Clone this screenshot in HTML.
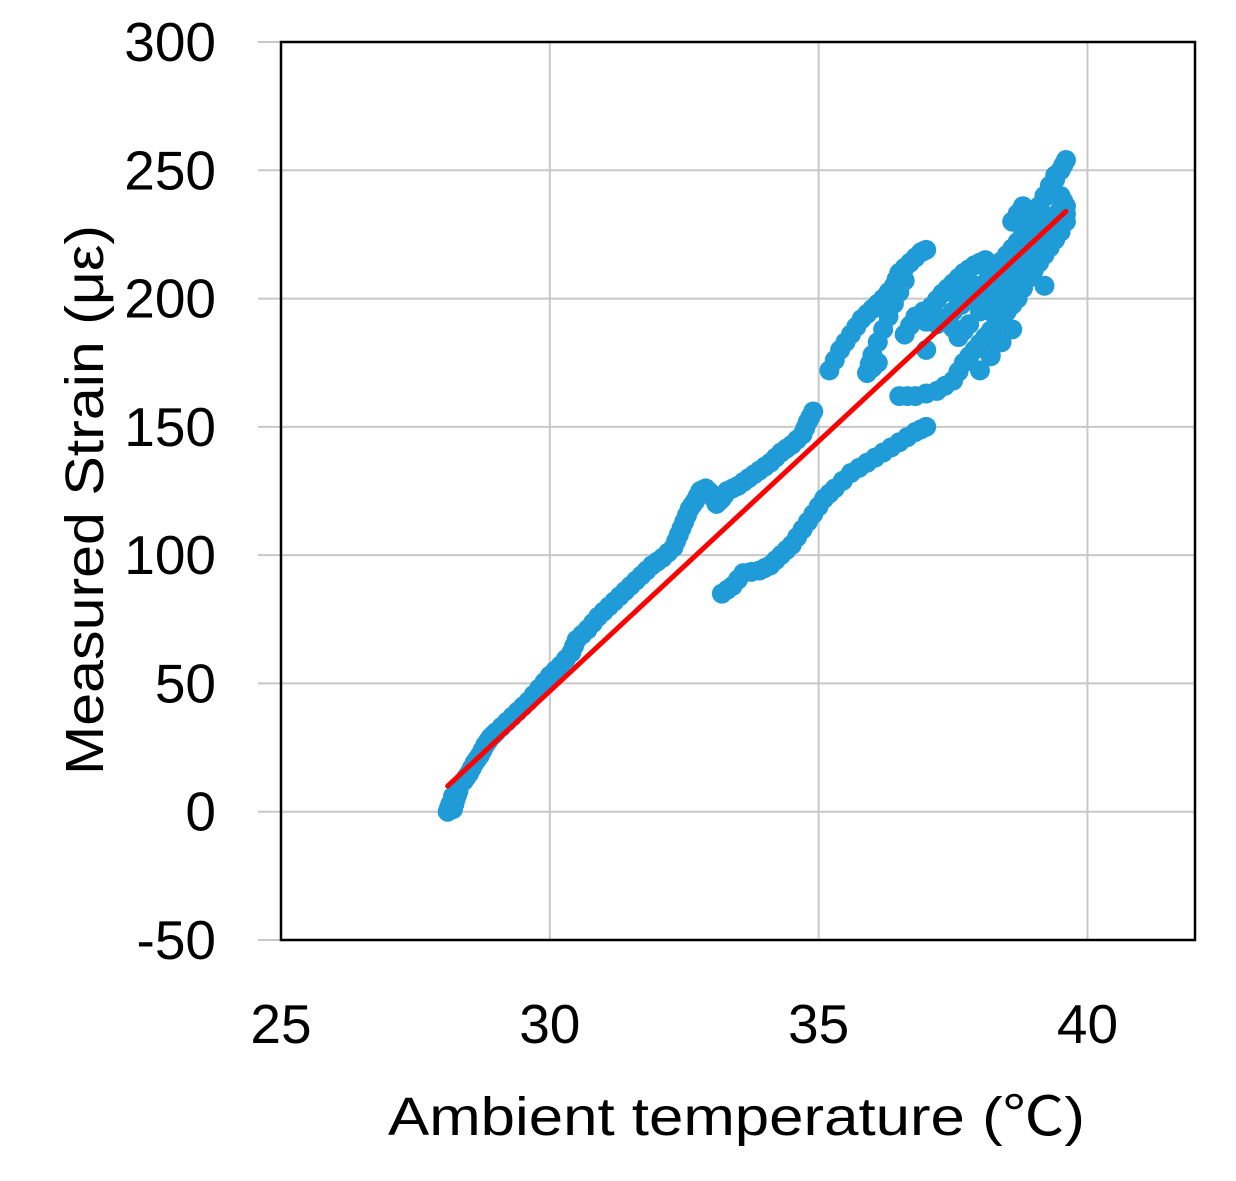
<!DOCTYPE html>
<html><head><meta charset="utf-8"><style>
html,body{margin:0;padding:0;background:#fff;}
svg text{font-family:"Liberation Sans","Noto Sans CJK JP",sans-serif;fill:#000;}
</style></head><body>
<svg id="chart" width="1236" height="1176" viewBox="0 0 1236 1176" xmlns="http://www.w3.org/2000/svg">
<g id="grid"></g><g id="pts"></g><g id="fit"></g><g id="axes"></g>
<text x="388" y="1135" font-size="54" textLength="697" lengthAdjust="spacingAndGlyphs">Ambient temperature (℃)</text>
<text x="0" y="0" font-size="54" textLength="550" lengthAdjust="spacingAndGlyphs" transform="translate(103,775) rotate(-90)">Measured Strain (με)</text>
</svg>
<script>
const xTicks=[25,30,35,40];
const yTicks=[-50,0,50,100,150,200,250,300];
const tempUpper=[28.1,28.15,28.2,28.25,28.3,28.2,28.4,28.5,28.6,28.7,28.8,28.9,29,29.2,29.4,29.6,29.8,30,30.2,30.4,30.5,30.7,30.9,31.1,31.3,31.5,31.7,31.9,32.1,32.3,32.4,32.5,32.6,32.7,32.8,32.9,33,33.1,33.2,33.3,33.5,33.7,33.9,34.1,34.3,34.5,34.7,34.8,34.9];
const strainUpper=[0,3,1,5,8,6,12,15,19,22,26,29,31,35,39,43,48,53,57,62,67,71,76,80,84,88,92,96,99,103,108,113,118,121,125,126,124,120,122,125,127,130,133,136,140,143,147,152,156];
const tempMid=[35.2,35.4,35.6,35.8,36,36.2,36.4,36.5,36.7,36.9,37,36.6,36.4,36.2,36.0,35.9,36.1,36.6,36.8,37.1,37.3,37.5,37.7,37.9,38.1,38.3,38.5,38.7,38.9,39.1,39.3,39.5,39.6,39.5,39.6,39.6,38.6,38.8,39.0,39.2,39.4,39.4,39.2,38.6,38.2,37.0,36.8,37.2,37.5,37.8,38.0,38.3,38.5,38.8,39.0,39.3,38.4,38.7,38.9,39.1,39.5,37.6,37.9,38.2];
const strainMid=[172,180,186,192,196,200,205,210,214,218,219,207,198,188,178,171,175,186,193,197,202,206,210,213,215,212,217,222,228,236,243,250,254,240,236,230,230,236,230,240,248,225,220,212,205,180,192,190,195,200,205,210,215,220,225,232,200,208,215,222,235,200,205,195];
const tempLower=[33.2,33.4,33.6,33.9,34.1,34.3,34.5,34.7,34.9,35.1,35.3,35.6,35.9,36.2,36.5,36.8,37,36.5,36.8,37.2,37.5,37.7,37.9,38.1,38.3,38.5,38.7,38.9,39.1,39.3,39.5,38,38.4,38.8,39,39.4,37.8,37.6,37.4,38.2,38.6,39.2,38.0,38.4];
const strainLower=[85,88,93,94,96,100,104,110,116,122,126,132,136,140,144,148,150,162,162,164,168,175,180,185,190,195,200,208,214,220,226,195,200,210,220,232,190,185,192,178,188,205,172,183];
const fitStart=[28.1,10];
const fitEnd=[39.6,234];

const X0=281,X1=1195,Y0=42,Y1=940;
const sx=v=>X0+(v-25)/(42-25)*(X1-X0);
const sy=v=>Y1-(v+50)/350*(Y1-Y0);
const NS="http://www.w3.org/2000/svg";
function mk(t,a,p){const e=document.createElementNS(NS,t);for(const k in a)e.setAttribute(k,a[k]);p.appendChild(e);return e;}
const grid=document.getElementById('grid'),axes=document.getElementById('axes'),pts=document.getElementById('pts'),fit=document.getElementById('fit');
yTicks.forEach(v=>{
  const l=mk('line',{x1:258,x2:X1,y1:sy(v),y2:sy(v),stroke:'#c8c8c8','stroke-width':2},grid);
  
  
  const t=mk('text',{x:216,y:sy(v)+19,'font-size':55,'text-anchor':'end'},axes);t.textContent=v;
  
  
});
xTicks.forEach(v=>{
  const l=mk('line',{x1:sx(v),x2:sx(v),y1:Y0,y2:Y1,stroke:'#c8c8c8','stroke-width':2},grid);
  
  
  const t=mk('text',{x:sx(v),y:1043,'font-size':55,'text-anchor':'middle'},axes);t.textContent=v;
  
  
});
const fr=mk('rect',{x:X0,y:Y0,width:X1-X0,height:Y1-Y0,fill:'none',stroke:'#000','stroke-width':2.5},axes);


function series(xs,ys,name){xs.forEach((x,i)=>{
  const c=mk('circle',{cx:sx(x),cy:sy(ys[i]),r:10,fill:'#1f9bd7'},pts);
  
  
  if(i>0){const px=xs[i-1],py=ys[i-1];if(Math.abs(px-x)<0.5&&Math.abs(py-ys[i])<12){
    const m=mk('circle',{cx:(sx(x)+sx(px))/2,cy:(sy(ys[i])+sy(py))/2,r:10,fill:'#1f9bd7'},pts);
    
    }}
});}
series(tempUpper,strainUpper,'data-point-upper');
series(tempMid,strainMid,'data-point-mid');
series(tempLower,strainLower,'data-point-lower');
const fl=mk('line',{x1:sx(fitStart[0]),y1:sy(fitStart[1]),x2:sx(fitEnd[0]),y2:sy(fitEnd[1]),stroke:'#ff0000','stroke-width':5,'stroke-linecap':'round'},fit);


</script>
</body></html>
